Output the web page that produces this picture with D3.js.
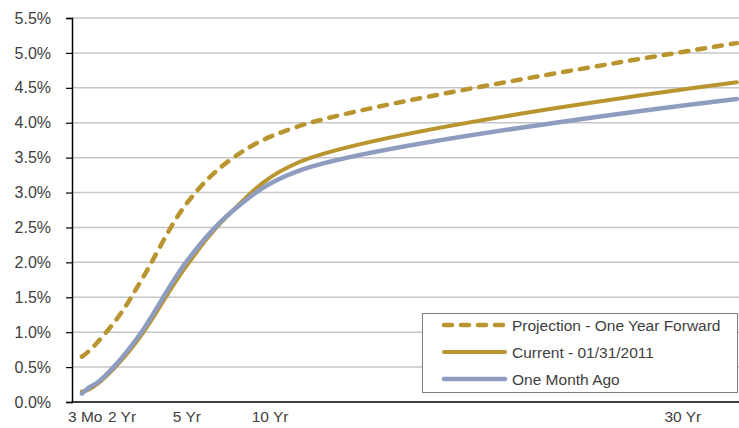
<!DOCTYPE html>
<html>
<head>
<meta charset="utf-8">
<script src="https://cdn.jsdelivr.net/npm/d3@7"></script>
<style>
  html, body { margin: 0; padding: 0; background: #fff; }
  svg text { font-family: "Liberation Sans", Arial, sans-serif; fill: #404040; }
</style>
</head>
<body>
<div id="chart"></div>
<script>
// maturities in years
const maturities = [0.25, 0.5, 1, 2, 3, 5, 7, 10, 30]

const projection = [0.65, 0.71, 0.87, 1.26, 1.77, 2.84, 3.47, 3.94, 5.14]
const current = [0.15, 0.17, 0.27, 0.58, 0.98, 1.95, 2.71, 3.42, 4.58]
const monthAgo = [0.12, 0.19, 0.29, 0.61, 1.02, 2.01, 2.71, 3.30, 4.34]

// x-axis labels and where they sit (years)
const tickLabels = ["3 Mo", "2 Yr", "5 Yr", "10 Yr", "30 Yr"]
const tickLabelAt = [0.4, 2.07, 5.02, 8.8, 27.55]

const yTicks = [0, 0.5, 1, 1.5, 2, 2.5, 3, 3.5, 4, 4.5, 5, 5.5]

const series = [
    { name: "Projection - One Year Forward", values: projection, color: "#B9952F", width: 4.5, dash: "8,9" },
    { name: "Current - 01/31/2011", values: current, color: "#B9952F", width: 4, dash: null },
    { name: "One Month Ago", values: monthAgo, color: "#8E9CC0", width: 4.5, dash: null }
]

const W = 739, H = 428
const margin = { top: 18, right: 0, bottom: 26, left: 72 }

const svg = d3.select("#chart")
    .append("svg")
    .attr("width", W)
    .attr("height", H)

const x = d3.scaleLinear()
    .domain([-0.2, 30.1])
    .range([margin.left, W - margin.right])

const y = d3.scaleLinear()
    .domain([0, 5.5])
    .range([H - margin.bottom, margin.top])

// gridlines
svg.append("g")
    .selectAll("line")
    .data(yTicks.slice(1))
    .join("line")
    .attr("x1", margin.left)
    .attr("x2", W - margin.right)
    .attr("y1", d => y(d))
    .attr("y2", d => y(d))
    .attr("stroke", "#C6C6C6")
    .attr("stroke-width", 1.5)

// y axis
const yAxis = svg.append("g")
    .attr("transform", `translate(${margin.left},0)`)
    .call(d3.axisLeft(y)
        .tickValues(yTicks)
        .tickSize(6)
        .tickPadding(15)
        .tickFormat(d => d.toFixed(1) + "%"))
    .attr("font-size", 16)
    .attr("font-family", "Liberation Sans, Arial, sans-serif")
yAxis.select(".domain").attr("stroke", "#000").attr("stroke-width", 1.5)
yAxis.selectAll(".tick line").attr("stroke", "#000").attr("stroke-width", 1.2)
yAxis.selectAll(".tick text")
    .attr("font-size", 16)
    .attr("fill", "#404040")

// x axis line
svg.append("line")
    .attr("x1", margin.left)
    .attr("x2", W - margin.right)
    .attr("y1", y(0))
    .attr("y2", y(0))
    .attr("stroke", "#000")
    .attr("stroke-width", 1.5)

svg.append("g")
    .selectAll("text")
    .data(tickLabels)
    .join("text")
    .attr("x", (d, i) => x(tickLabelAt[i]))
    .attr("y", y(0) + 20)
    .attr("text-anchor", "middle")
    .attr("font-size", 15.5)
    .text(d => d)

const line = d3.line()
    .x((d, i) => x(maturities[i]))
    .y(d => y(d))
    .curve(d3.curveCatmullRom.alpha(0.5))

svg.append("g")
    .selectAll("path")
    .data(series)
    .join("path")
    .attr("d", d => line(d.values))
    .attr("fill", "none")
    .attr("stroke", d => d.color)
    .attr("stroke-width", d => d.width)
    .attr("stroke-dasharray", d => d.dash)
    .attr("stroke-linecap", "round")
    .attr("stroke-linejoin", "round")

// legend
const legend = svg.append("g").attr("transform", "translate(422,313)")
legend.append("rect")
    .attr("x", 0.5)
    .attr("y", 0.5)
    .attr("width", 315)
    .attr("height", 79)
    .attr("fill", "#fff")
    .attr("stroke", "#7F7F7F")
    .attr("stroke-width", 1)

const item = legend.selectAll(".item")
    .data(series)
    .join("g")
    .attr("class", "item")
    .attr("transform", (d, i) => `translate(0,${12 + i * 27})`)

item.append("line")
    .attr("x1", 22)
    .attr("x2", 83)
    .attr("stroke", d => d.color)
    .attr("stroke-width", d => d.width)
    .attr("stroke-dasharray", d => d.dash)
    .attr("stroke-linecap", "round")

item.append("text")
    .attr("x", 90)
    .attr("dy", "0.36em")
    .attr("font-size", 15.5)
    .text(d => d.name)
</script>
</body>
</html>
